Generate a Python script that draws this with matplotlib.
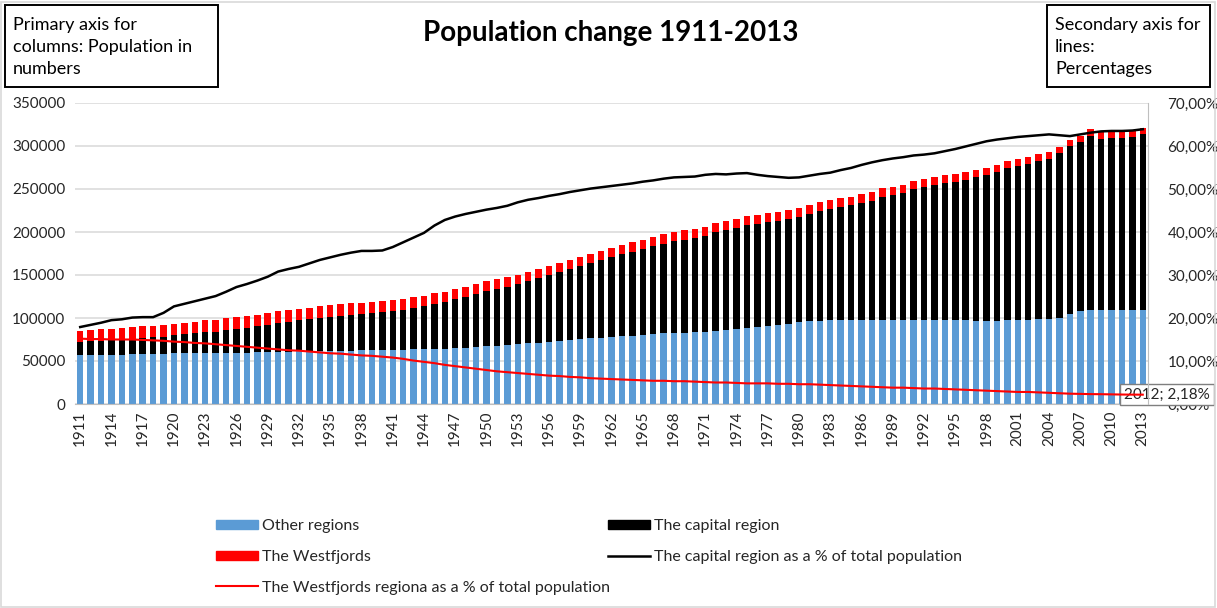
import matplotlib
matplotlib.use("Agg")
import matplotlib.pyplot as plt
import numpy as np
from matplotlib.patches import Rectangle, Patch
from matplotlib.lines import Line2D
from matplotlib.ticker import FuncFormatter

plt.rcParams['font.family'] = ['Lato', 'DejaVu Sans']

years = list(range(1911, 2014))

other_regions = [
    57000, 56800, 57000, 57200, 57500, 57800, 58200, 58500, 58500, 58800,
    58900, 59000, 59200, 59000, 59300, 59500, 59700, 59900, 60200, 60500,
    61000, 61200, 61400, 61500, 61700, 61900, 62100, 62300, 62500, 62800,
    63000, 63300, 63500, 63600, 63900, 64400, 64900, 65500, 66200, 67000,
    67800, 68600, 69500, 70500, 71400, 72400, 73400, 74300, 75200, 76200,
    77000, 77900, 78700, 79600, 80400, 81200, 82000, 82600, 83000, 83500,
    84200, 85000, 86000, 87000, 88000, 89200, 90500, 92000, 93500, 95000,
    96200, 97000, 97500, 97600, 97700, 97600, 97600, 97700, 97800, 97800,
    97800, 97900, 98000, 97800, 97500, 97300, 97000, 96800, 97000, 97400,
    97800, 98000, 98300, 98800, 100200, 104500, 108600, 109200, 109000, 108900,
    108800, 108800, 108900]

capital_region = [
    15300, 16000, 16600, 17200, 17700, 18200, 18800, 19000, 19700, 21100,
    22100, 23300, 24300, 25300, 26600, 27600, 29100, 30400, 31900, 34100,
    34900, 36000, 37000, 38300, 39700, 40500, 41400, 42200, 43200, 44300,
    45100, 46300, 48200, 50100, 52700, 54500, 56900, 59400, 62000, 64200,
    66200, 68000, 70100, 72500, 75000, 77800, 80100, 82700, 85300, 88200,
    90600, 92900, 95400, 97700, 100100, 102500, 104600, 106600, 108200, 109400,
    111500, 114600, 116200, 117900, 120100, 120300, 120900, 121100, 121500, 122800,
    124600, 127000, 129300, 132000, 133300, 136200, 138800, 143300, 145300, 147200,
    151900, 154300, 156800, 159200, 160500, 163200, 166400, 169500, 172600, 177000,
    179500, 180800, 184200, 186600, 191500, 195100, 196100, 202900, 199700, 200600,
    200800, 201700, 205400]

westfjords = [
    12950, 12960, 13090, 13130, 13280, 13410, 13480, 13470, 13480, 13560,
    13620, 13620, 13710, 13610, 13630, 13590, 13620, 13610, 13640, 13750,
    13700, 13750, 13680, 13610, 13570, 13570, 13440, 13310, 13330, 13230,
    13090, 12860, 12540, 12360, 12240, 11900, 11750, 11600, 11450, 11260,
    11020, 10920, 10830, 10770, 10680, 10610, 10670, 10560, 10610, 10490,
    10510, 10520, 10520, 10520, 10510, 10490, 10650, 10590, 10700, 10580,
    10520, 10510, 10640, 10560, 10490, 10560, 10660, 10510, 10600, 10500,
    10640, 10550, 10440, 10320, 10130, 10000, 9850, 9780, 9600, 9680,
    9590, 9420, 9510, 9320, 9080, 8890, 8710, 8520, 8340, 8200,
    7990, 8030, 7840, 7620, 7480, 7370, 7330, 7350, 7200, 7090,
    6970, 6920, 6970]

capital_pct = [
    17.9, 18.4, 18.9, 19.5, 19.7, 20.1, 20.2, 20.2, 21.2, 22.7,
    23.3, 23.9, 24.5, 25.1, 26.1, 27.2, 27.9, 28.7, 29.6, 30.8,
    31.4, 31.9, 32.7, 33.5, 34.1, 34.7, 35.2, 35.6, 35.6, 35.7,
    36.5, 37.6, 38.7, 39.8, 41.5, 42.8, 43.6, 44.2, 44.7, 45.2,
    45.6, 46.1, 46.9, 47.5, 47.9, 48.4, 48.8, 49.3, 49.7, 50.1,
    50.4, 50.7, 51.0, 51.3, 51.7, 52.0, 52.4, 52.7, 52.8, 52.9,
    53.3, 53.5, 53.4, 53.6, 53.7, 53.3, 53.0, 52.8, 52.6, 52.7,
    53.1, 53.5, 53.8, 54.4, 54.9, 55.6, 56.2, 56.7, 57.1, 57.4,
    57.8, 58.0, 58.3, 58.8, 59.3, 59.9, 60.5, 61.1, 61.5, 61.8,
    62.1, 62.3, 62.5, 62.7, 62.5, 62.3, 62.7, 63.1, 63.4, 63.5,
    63.5, 63.6, 63.9]

westfjords_pct = [
    15.2, 15.1, 15.1, 15.0, 15.0, 15.0, 14.9, 14.8, 14.7, 14.5,
    14.4, 14.2, 14.1, 13.9, 13.7, 13.5, 13.3, 13.1, 12.9, 12.7,
    12.5, 12.4, 12.2, 12.0, 11.8, 11.7, 11.5, 11.3, 11.2, 11.0,
    10.8, 10.5, 10.1, 9.8, 9.5, 9.1, 8.8, 8.5, 8.2, 7.9,
    7.6, 7.4, 7.2, 7.0, 6.8, 6.6, 6.5, 6.3, 6.2, 6.0,
    5.9, 5.8, 5.7, 5.6, 5.5, 5.4, 5.4, 5.3, 5.3, 5.2,
    5.1, 5.0, 5.0, 4.9, 4.8, 4.8, 4.8, 4.7, 4.7, 4.6,
    4.6, 4.5, 4.4, 4.3, 4.2, 4.1, 4.0, 3.9, 3.8, 3.8,
    3.7, 3.6, 3.6, 3.5, 3.4, 3.3, 3.2, 3.1, 3.0, 2.9,
    2.8, 2.8, 2.7, 2.6, 2.5, 2.4, 2.35, 2.3, 2.28, 2.24,
    2.2, 2.18, 2.17]

left_ticks = [0, 50000, 100000, 150000, 200000, 250000, 300000, 350000]
right_ticks = [0, 10, 20, 30, 40, 50, 60, 70]
label_year = 2012

BLUE = '#5B9BD5'
BLACK = '#000000'
RED = '#FF0000'
GRID = '#D9D9D9'
TXT = '#262626'

W, H = 1217, 608
fig = plt.figure(figsize=(W / 100, H / 100), dpi=100)

ax = fig.add_axes([75 / W, 1 - 404 / H, (1148 - 75) / W, (404 - 103) / H])
ax2 = ax.twinx()

x = np.arange(len(years))
o = np.array(other_regions)
c = np.array(capital_region)
w = np.array(westfjords)
bw = 0.62
ax.bar(x, o, bw, color=BLUE, zorder=2, label='Other regions')
ax.bar(x, c, bw, bottom=o, color=BLACK, zorder=2, label='The capital region')
ax.bar(x, w, bw, bottom=o + c, color=RED, zorder=2, label='The Westfjords')

ax.set_xlim(-0.5, len(years) - 0.5)
ax.set_ylim(0, 350000)
ax.set_yticks(left_ticks)
ax.set_yticklabels([str(v) for v in left_ticks])
ax.grid(axis='y', color=GRID, linewidth=1.1, zorder=0)
ax.set_axisbelow(True)
tick_idx = [i for i, y in enumerate(years) if (y - years[0]) % 3 == 0]
ax.set_xticks(tick_idx)
ax.set_xticklabels([str(years[i]) for i in tick_idx], rotation=90)
ax.tick_params(axis='both', length=0, labelsize=11, colors=TXT)
ax.tick_params(axis='y', pad=7)
ax.tick_params(axis='x', pad=5)
for s in ['top', 'left', 'right']:
    ax.spines[s].set_visible(False)
ax.spines['bottom'].set_color('#BFBFBF')

ax2.plot(x, np.array(capital_pct), color=BLACK, lw=1.8, zorder=3)
ax2.plot(x, np.array(westfjords_pct), color=RED, lw=1.5, zorder=3)
ax2.set_ylim(0, 70)
ax2.set_yticks(right_ticks)
ax2.yaxis.set_major_formatter(FuncFormatter(lambda v, p: f"{v:.2f}".replace('.', ',') + '%'))
ax2.tick_params(axis='y', length=0, labelsize=11, colors=TXT, pad=14)
for s in ['top', 'left', 'bottom']:
    ax2.spines[s].set_visible(False)
ax2.spines['right'].set_color('#BFBFBF')

li = years.index(label_year)
lv = westfjords_pct[li]
ax2.annotate(f"{label_year}; " + f"{lv:.2f}".replace('.', ',') + '%',
             xy=(li, lv), xytext=(25, 0), textcoords='offset points',
             ha='center', va='center', fontsize=11, color=TXT,
             annotation_clip=False, zorder=2.4,
             bbox=dict(boxstyle='square,pad=0.25', fc='white', ec='#7F7F7F', lw=1))

# Title
fig.text(611 / W, 1 - 33 / H, 'Population change 1911-2013', ha='center', va='center',
         fontsize=20, fontweight='bold', color='black')

# Corner boxes
def corner_box(x0, y0, x1, y1, lines):
    fig.add_artist(Rectangle((x0 / W, 1 - y1 / H), (x1 - x0) / W, (y1 - y0) / H,
                             transform=fig.transFigure, fill=False, ec='black', lw=1.4))
    for k, t in enumerate(lines):
        fig.text((x0 + 8) / W, 1 - (y0 + 20 + 22 * k) / H, t, ha='left', va='center',
                 fontsize=13, color='black')

corner_box(5, 5, 218, 87, ['Primary axis for', 'columns: Population in', 'numbers'])
corner_box(1047, 5, 1210, 87, ['Secondary axis for', 'lines:', 'Percentages'])

# Legends
h_blue = Patch(color=BLUE)
h_black = Patch(color=BLACK)
h_red = Patch(color=RED)
h_cl = Line2D([], [], color=BLACK, lw=1.8)
h_wl = Line2D([], [], color=RED, lw=1.5)
common = dict(frameon=False, fontsize=11.5, handlelength=2.6, handleheight=0.5,
              handletextpad=0.3, labelspacing=1.05, borderpad=0, borderaxespad=0,
              loc='upper left', labelcolor=TXT)
leg1 = fig.legend([h_blue, h_red, h_wl],
                  ['Other regions', 'The Westfjords',
                   'The Westfjords regiona as a % of total population'],
                  bbox_to_anchor=(216 / W, 1 - 519 / H), **common)
leg2 = fig.legend([h_black, h_cl],
                  ['The capital region', 'The capital region as a % of total population'],
                  bbox_to_anchor=(608 / W, 1 - 519 / H), **common)

# Chart border
fig.add_artist(Rectangle((1 / W, 1 / H), (W - 3) / W, (H - 3) / H, transform=fig.transFigure,
                         fill=False, ec='#D9D9D9', lw=1.2))

fig.savefig('out.png', dpi=100)
